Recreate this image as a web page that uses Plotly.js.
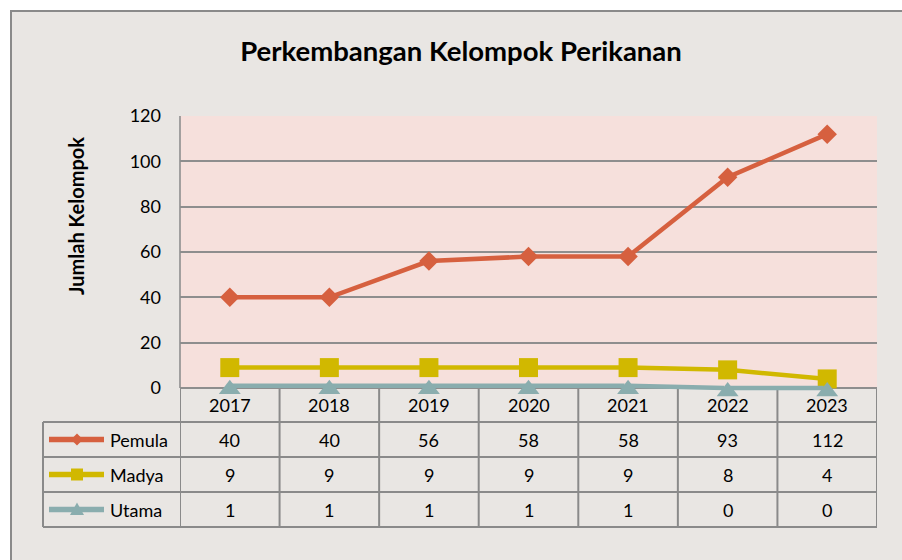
<!DOCTYPE html>
<html>
<head>
<meta charset="utf-8">
<script src="https://cdn.plot.ly/plotly-3.0.1.min.js"></script>
<style>html,body{margin:0;padding:0;background:#fff;}#chart{width:902px;height:560px;}</style>
</head>
<body>
<div id="chart"></div>
<script>
// ---- data ----
const years = ['2017', '2018', '2019', '2020', '2021', '2022', '2023'];
const pemula = [40, 40, 56, 58, 58, 93, 112];
const madya = [9, 9, 9, 9, 9, 8, 4];
const utama = [1, 1, 1, 1, 1, 0, 0];
const seriesNames = ['Pemula', 'Madya', 'Utama'];
const yTicks = [0, 20, 40, 60, 80, 100, 120];

// ---- styling ----
const W = 902, H = 560;
const FONT = 'Lato, "Open Sans", sans-serif';
const colors = ['#D6603F', '#D1B800', '#8AADAE'];
const symbols = ['diamond', 'square', 'triangle-up'];
const sizes = [15, 19, 19];
const standoffs = [0, 0, 3.5];
const gridCol = '#8E8E8E';
const bgCol = '#E9E6E3';
const plotL = 180, plotR = 877, plotT = 116, plotB = 388;
const yMax = 120;
const ext = 14; // extra px below zero so markers at 0 are not clipped
const yMin = -ext * yMax / (plotB - plotT);
const tblLeft = 43;
const rowLines = [422, 457, 492, 527];
const headerCenter = 405;
const rowCenters = [439.5, 474.5, 509.5];

const px = x => x / W;
const py = y => 1 - y / H;

const seriesData = [pemula, madya, utama];

const traces = seriesData.map((vals, k) => ({
  type: 'scatter', mode: 'lines+markers',
  x: years, y: vals, name: seriesNames[k],
  line: {color: colors[k], width: 4.5},
  marker: {symbol: symbols[k], size: sizes[k], color: colors[k], standoff: standoffs[k], line: {width: 0}},
  cliponaxis: false, showlegend: false, hoverinfo: 'skip'
}));

const shapes = [];
// white outer strips and frame
shapes.push({type: 'rect', xref: 'paper', yref: 'paper', x0: 0, x1: 1, y0: py(10), y1: 1, fillcolor: '#ffffff', line: {width: 0}, layer: 'below'});
shapes.push({type: 'rect', xref: 'paper', yref: 'paper', x0: 0, x1: px(10), y0: 0, y1: 1, fillcolor: '#ffffff', line: {width: 0}, layer: 'below'});
shapes.push({type: 'line', xref: 'paper', yref: 'paper', x0: px(10), x1: 1, y0: py(11), y1: py(11), line: {color: '#8A8A8A', width: 2}, layer: 'below'});
shapes.push({type: 'line', xref: 'paper', yref: 'paper', x0: px(11), x1: px(11), y0: py(10), y1: 0, line: {color: '#8A8A8A', width: 2}, layer: 'below'});
// cover the extension strip below zero with the chart background
shapes.push({type: 'rect', xref: 'paper', yref: 'paper', x0: px(plotL), x1: px(plotR), y0: py(plotB + ext + 1), y1: py(plotB), fillcolor: bgCol, line: {width: 0}, layer: 'below'});

const tblLine = {color: '#8A8A8A', width: 2};
// vertical axis line + table column lines
shapes.push({type: 'line', xref: 'paper', yref: 'paper', x0: px(plotL), x1: px(plotL), y0: py(plotT), y1: py(plotB), line: {color: gridCol, width: 1.6}, layer: 'below'});
for (let i = 0; i <= years.length; i++) {
  shapes.push({type: 'line', xref: 'x', yref: 'paper', x0: i - 0.5, x1: i - 0.5, y0: py(plotB), y1: py(rowLines[3]), line: tblLine, layer: 'below'});
}
shapes.push({type: 'line', xref: 'paper', yref: 'paper', x0: px(tblLeft), x1: px(tblLeft), y0: py(rowLines[0]), y1: py(rowLines[3]), line: tblLine, layer: 'below'});
rowLines.forEach(r => {
  shapes.push({type: 'line', xref: 'paper', yref: 'paper', x0: px(tblLeft), x1: px(plotR), y0: py(r), y1: py(r), line: tblLine, layer: 'below'});
});

// legend keys in table
const keyX0 = 49, keyX1 = 104, keyXc = 77;
rowCenters.forEach((cy, k) => {
  shapes.push({type: 'line', xref: 'paper', yref: 'paper', x0: px(keyX0), x1: px(keyX1), y0: py(cy), y1: py(cy), line: {color: colors[k], width: 5.5}});
  let path;
  if (k === 0) {
    const r = 6;
    path = `M${px(keyXc)},${py(cy - r)} L${px(keyXc + r)},${py(cy)} L${px(keyXc)},${py(cy + r)} L${px(keyXc - r)},${py(cy)} Z`;
  } else if (k === 1) {
    const r = 6;
    path = `M${px(keyXc - r)},${py(cy - r)} L${px(keyXc + r)},${py(cy - r)} L${px(keyXc + r)},${py(cy + r)} L${px(keyXc - r)},${py(cy + r)} Z`;
  } else {
    const r = 7;
    path = `M${px(keyXc)},${py(cy - r)} L${px(keyXc + r)},${py(cy + 5.5)} L${px(keyXc - r)},${py(cy + 5.5)} Z`;
  }
  shapes.push({type: 'path', xref: 'paper', yref: 'paper', path: path, fillcolor: colors[k], line: {width: 0}});
});

const annotations = [];
const cellFont = {family: FONT, size: 18, color: '#000'};
years.forEach((yr, i) => {
  annotations.push({xref: 'x', yref: 'paper', x: i, y: py(headerCenter), text: yr, showarrow: false, font: cellFont, xanchor: 'center', yanchor: 'middle'});
  seriesData.forEach((vals, k) => {
    annotations.push({xref: 'x', yref: 'paper', x: i, y: py(rowCenters[k]), text: String(vals[i]), showarrow: false, font: cellFont, xanchor: 'center', yanchor: 'middle'});
  });
});
seriesNames.forEach((n, k) => {
  annotations.push({xref: 'paper', yref: 'paper', x: px(108), y: py(rowCenters[k]), text: n, showarrow: false, font: cellFont, xanchor: 'left', yanchor: 'middle'});
});
annotations.push({xref: 'paper', yref: 'paper', x: px(75.5), y: py(216.5), text: '<b>Jumlah Kelompok</b>', textangle: -90, showarrow: false, font: {family: FONT, size: 20, color: '#000'}, xanchor: 'center', yanchor: 'middle'});

const layout = {
  width: W, height: H,
  margin: {l: 0, r: 0, t: 0, b: 0, pad: 0},
  paper_bgcolor: bgCol,
  plot_bgcolor: '#F6E0DC',
  font: {family: FONT, color: '#000'},
  title: {text: '<b>Perkembangan Kelompok Perikanan</b>', x: 461 / W, xanchor: 'center', y: py(51), yanchor: 'middle', yref: 'container', font: {family: FONT, size: 27.5, color: '#000'}},
  xaxis: {type: 'category', categoryorder: 'array', categoryarray: years, domain: [px(plotL), px(plotR)], range: [-0.5, 6.5], showgrid: false, zeroline: false, showticklabels: false, ticks: '', showline: false, fixedrange: true},
  yaxis: {domain: [py(plotB + ext), py(plotT)], range: [yMin, yMax], tickvals: yTicks, ticktext: yTicks.map(String), showgrid: true, gridcolor: gridCol, gridwidth: 1.8, zeroline: false, showline: false, ticks: '', ticklabelstandoff: 18, tickfont: {family: FONT, size: 18, color: '#000'}, fixedrange: true},
  shapes: shapes,
  annotations: annotations,
  showlegend: false
};

Plotly.newPlot('chart', traces, layout, {displayModeBar: false, staticPlot: true});
</script>
</body>
</html>
